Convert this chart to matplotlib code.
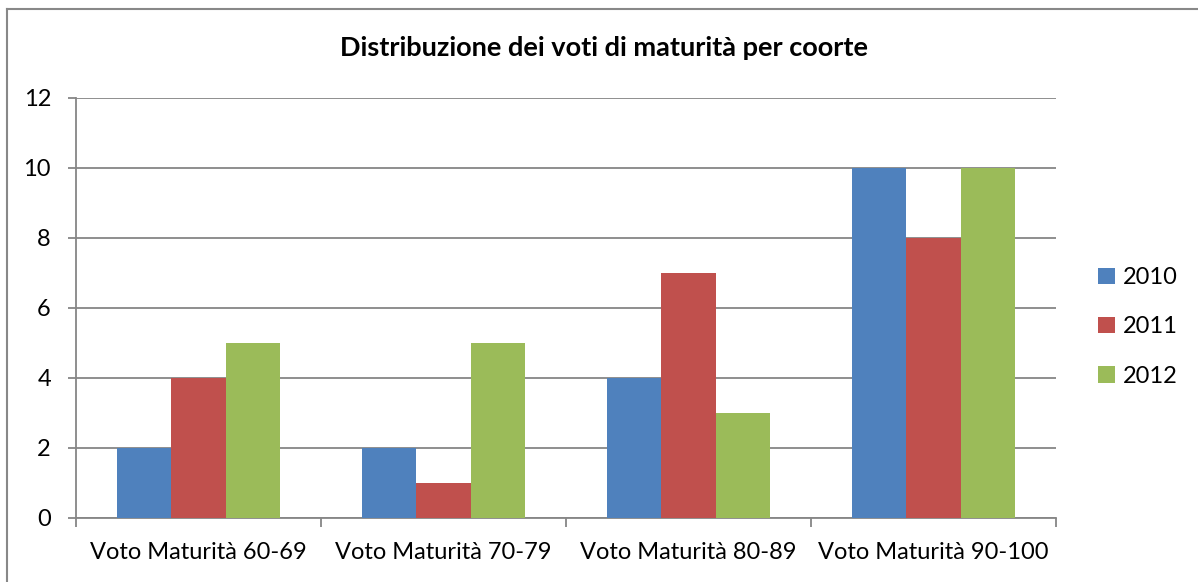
import matplotlib.pyplot as plt
from matplotlib.lines import Line2D
import numpy as np

plt.rcParams['font.family'] = ['Lato', 'DejaVu Sans']

categories = ['Voto Maturità 60-69', 'Voto Maturità 70-79',
              'Voto Maturità 80-89', 'Voto Maturità 90-100']
series_names = ['2010', '2011', '2012']
v2010 = [2, 2, 4, 10]
v2011 = [4, 1, 7, 8]
v2012 = [5, 5, 3, 10]
colors = ['#4f81bd', '#c0504d', '#9bbb59']

fig = plt.figure(figsize=(11.98, 5.82), dpi=100)
ax = fig.add_axes([76 / 1198, 1 - 518 / 582, 980 / 1198, 420 / 582])

x = np.arange(len(categories))
w = 1 / 4.5
for i, (vals, name) in enumerate(zip([v2010, v2011, v2012], series_names)):
    ax.bar(x + (i - 1) * w, vals, width=w, color=colors[i], label=name, zorder=3)

grid_c = '#868686'
ax.set_xlim(-0.5, 3.5)
ax.set_ylim(0, 12)
ax.set_yticks(range(0, 13, 2))
ax.yaxis.grid(True, color=grid_c, linewidth=1.3, zorder=0)
ax.set_xticks(x)
ax.set_xticklabels(categories, fontsize=17)
ax.set_xticks(np.arange(-0.5, 4, 1), minor=True)
ax.tick_params(axis='x', which='major', length=0, pad=17)
ax.tick_params(axis='x', which='minor', length=6.5, width=1.3, color=grid_c)
ax.tick_params(axis='y', length=6, width=1.3, color=grid_c, labelsize=17, pad=12)
for s in ['top', 'right']:
    ax.spines[s].set_visible(False)
for s in ['left', 'bottom']:
    ax.spines[s].set_color(grid_c)
    ax.spines[s].set_linewidth(1.3)

fig.text(604 / 1198, 1 - 48 / 582, 'Distribuzione dei voti di maturità per coorte',
         ha='center', va='center', fontsize=19.5, fontweight='bold')

fig.legend(loc='center left', bbox_to_anchor=(1077 / 1198, 1 - 327 / 582),
           frameon=False, fontsize=17, handlelength=0.7, handleheight=0.7,
           handletextpad=0.35, labelspacing=1.2)

# outer chart border (left and top visible)
fig.add_artist(Line2D([7 / 1198, 7 / 1198], [0, 1 - 9 / 582], color='#888888', linewidth=1.5))
fig.add_artist(Line2D([7 / 1198, 1], [1 - 9 / 582, 1 - 9 / 582], color='#888888', linewidth=1.5))

fig.savefig('out.png', dpi=100)
